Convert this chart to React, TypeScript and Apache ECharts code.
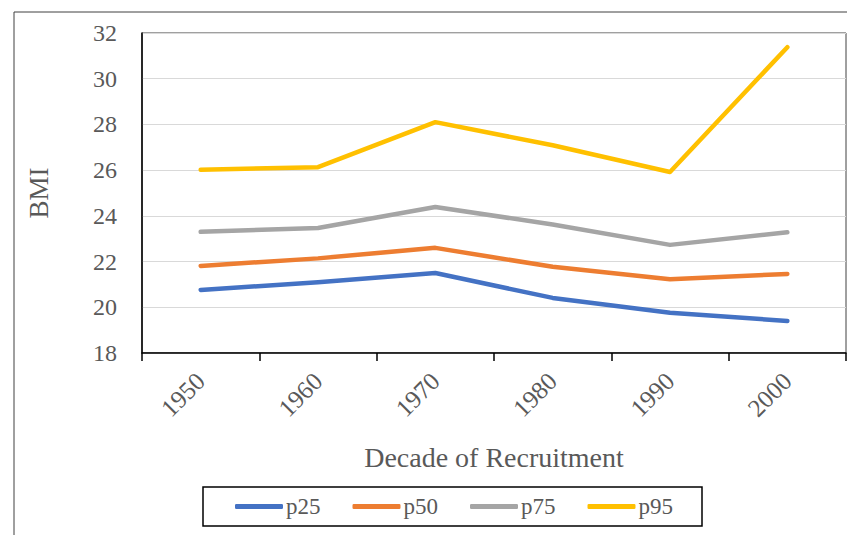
import React, { useEffect, useRef } from "react";
import * as echarts from "echarts";

const categories = ["1950", "1960", "1970", "1980", "1990", "2000"];
const p25 = [20.76, 21.1, 21.5, 20.41, 19.76, 19.4];
const p50 = [21.81, 22.14, 22.6, 21.77, 21.23, 21.46];
const p75 = [23.3, 23.47, 24.39, 23.62, 22.73, 23.28];
const p95 = [26.02, 26.13, 28.1, 27.09, 25.92, 31.38];
const yTicks = { min: 18, max: 32, interval: 2 };

const FONT = "Liberation Serif";
const TEXT = "#595959";

export default function App() {
  const ref = useRef<HTMLDivElement>(null);
  useEffect(() => {
    if (!ref.current) return;
    const chart = echarts.init(ref.current, undefined, { renderer: "svg" });
    const mk = (name: string, data: number[], color: string) => ({
      name,
      type: "line",
      data,
      symbol: "none",
      lineStyle: { color, width: 4.5, cap: "round", join: "round" },
      itemStyle: { color },
    });
    chart.setOption({
      animation: false,
      backgroundColor: "#fff",
      textStyle: { fontFamily: FONT },
      graphic: [
        {
          type: "rect",
          shape: { x: 14, y: 12, width: 900, height: 600 },
          style: { fill: "none", stroke: "#404040", lineWidth: 1 },
          silent: true,
        },
      ],
      grid: {
        left: 142,
        top: 33,
        right: 1,
        bottom: 182,
        show: true,
        borderColor: "#404040",
        borderWidth: 1,
        backgroundColor: "transparent",
      },
      legend: {
        left: 203,
        top: 487,
        width: 500,
        padding: [8, 29, 8, 32],
        borderColor: "#000",
        borderWidth: 1.5,
        itemWidth: 48,
        itemHeight: 5,
        itemGap: 32,
        icon: "roundRect",
        textStyle: { fontFamily: FONT, fontSize: 23, color: TEXT, padding: [6, 0, 0, -2] },
        data: ["p25", "p50", "p75", "p95"],
      },
      xAxis: {
        type: "category",
        data: categories,
        boundaryGap: true,
        name: "Decade of Recruitment",
        nameLocation: "middle",
        nameGap: 90,
        nameTextStyle: { fontFamily: FONT, fontSize: 28, color: TEXT },
        axisLine: { lineStyle: { color: "#000", width: 1.5 } },
        axisTick: { show: true, length: 8, alignWithLabel: false, lineStyle: { color: "#000", width: 1.5 } },
        axisLabel: { rotate: 45, margin: 24, fontFamily: FONT, fontSize: 25, color: TEXT },
        splitLine: { show: false },
      },
      yAxis: {
        type: "value",
        min: yTicks.min,
        max: yTicks.max,
        interval: yTicks.interval,
        name: "BMI",
        nameLocation: "middle",
        nameGap: 90,
        nameRotate: 90,
        nameTextStyle: { fontFamily: FONT, fontSize: 27, color: TEXT },
        axisLine: { show: true, lineStyle: { color: "#000", width: 1.5 } },
        axisTick: { show: false },
        axisLabel: { margin: 25, fontFamily: FONT, fontSize: 24, color: TEXT },
        splitLine: { show: true, lineStyle: { color: "#d9d9d9", width: 1.2 } },
      },
      series: [
        mk("p25", p25, "#4472C4"),
        mk("p50", p50, "#ED7D31"),
        mk("p75", p75, "#A5A5A5"),
        mk("p95", p95, "#FFC000"),
      ],
    });
    return () => chart.dispose();
  }, []);
  return (
    <div
      ref={ref}
      style={{ position: "fixed", left: 0, top: 0, width: 847, height: 535, background: "#fff" }}
    />
  );
}
